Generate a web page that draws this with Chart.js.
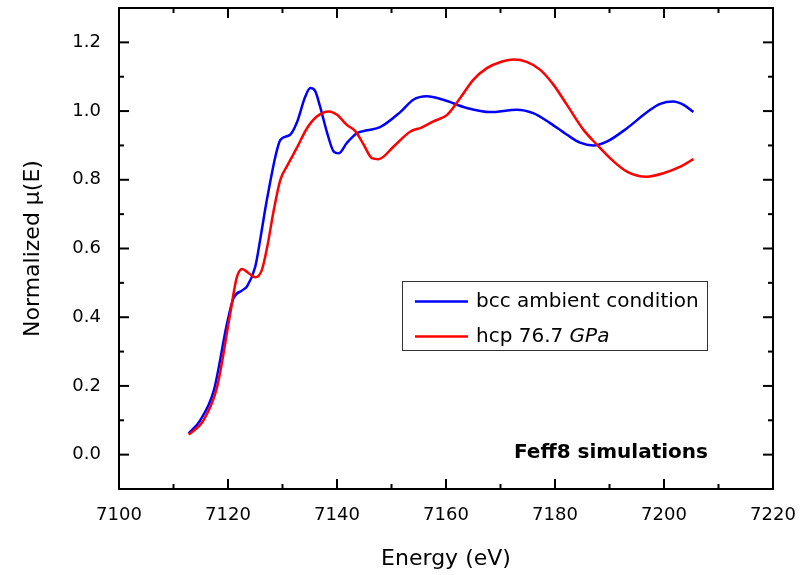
<!DOCTYPE html>
<html>
<head>
<meta charset="utf-8">
<script src="https://cdn.jsdelivr.net/npm/chart.js@4.4.0/dist/chart.umd.min.js"></script>
<style>
  html, body { margin: 0; padding: 0; background: #ffffff; }
  #wrap { width: 812px; height: 575px; }
</style>
</head>
<body>
<div id="wrap"><canvas id="c" width="812" height="575"></canvas></div>
<script>
// XANES spectra: bcc phase at ambient conditions vs hcp phase at 76.7 GPa
const energyBcc = [7112.8, 7114.9, 7117.4, 7119.8, 7121.0, 7122.6, 7123.5, 7125.0, 7125.9, 7126.8,
  7127.7, 7128.7, 7129.6, 7131.4, 7132.6, 7134.2, 7135.1, 7136.0, 7136.9, 7138.2,
  7139.4, 7140.3, 7141.8, 7143.7, 7145.5, 7147.9, 7151.6, 7154.0, 7156.5, 7159.5,
  7163.8, 7168.1, 7173.0, 7176.0, 7179.1, 7182.2, 7184.6, 7187.0, 7189.5, 7193.2,
  7196.8, 7199.3, 7201.7, 7203.6, 7205.4];
const muBcc = [0.062, 0.100, 0.187, 0.380, 0.455, 0.478, 0.490, 0.547, 0.625, 0.712,
  0.790, 0.868, 0.916, 0.931, 0.965, 1.043, 1.067, 1.058, 1.013, 0.936,
  0.882, 0.877, 0.907, 0.936, 0.944, 0.953, 0.997, 1.033, 1.043, 1.033,
  1.009, 0.997, 1.004, 0.994, 0.965, 0.931, 0.908, 0.900, 0.911, 0.950,
  0.996, 1.021, 1.028, 1.018, 0.997];

const energyHcp = [7112.8, 7115.5, 7118.0, 7120.4, 7121.6, 7122.6, 7123.8, 7125.0, 7126.2, 7127.2,
  7128.4, 7129.6, 7130.8, 7132.6, 7134.5, 7136.3, 7138.5, 7140.0, 7141.8, 7143.4,
  7144.9, 7146.4, 7147.6, 7150.4, 7153.4, 7155.5, 7157.7, 7160.2, 7162.6, 7165.0,
  7167.5, 7169.9, 7172.4, 7174.8, 7177.3, 7179.7, 7182.2, 7185.2, 7187.7, 7190.1,
  7193.2, 7196.8, 7199.9, 7203.0, 7205.4];
const muHcp = [0.058, 0.100, 0.197, 0.410, 0.515, 0.540, 0.528, 0.516, 0.537, 0.605,
  0.712, 0.800, 0.839, 0.892, 0.950, 0.984, 0.999, 0.989, 0.960, 0.941,
  0.902, 0.863, 0.860, 0.897, 0.940, 0.952, 0.970, 0.989, 1.038, 1.091,
  1.125, 1.142, 1.150, 1.143, 1.120, 1.077, 1.018, 0.946, 0.902, 0.863,
  0.824, 0.809, 0.819, 0.838, 0.860];

const xTicks = [7100, 7120, 7140, 7160, 7180, 7200, 7220];
const xMinorTicks = [7110, 7130, 7150, 7170, 7190, 7210];
const yTicks = [0.0, 0.2, 0.4, 0.6, 0.8, 1.0, 1.2];
const yMinorTicks = [0.1, 0.3, 0.5, 0.7, 0.9, 1.1];

const seriesLabels = ['bcc ambient condition', 'hcp 76.7 GPa'];
const seriesColors = ['#0000ff', '#ff0000'];

const FONT = "'DejaVu Sans', 'Open Sans', sans-serif";

function pairs(xs, ys) { return xs.map((x, i) => ({ x: x, y: ys[i] })); }

// Boxed frame with inward ticks on all four sides, legend and note
const framePlugin = {
  id: 'frame',
  afterDraw(chart) {
    const ctx = chart.ctx;
    const a = chart.chartArea;
    const xs = chart.scales.x, ys = chart.scales.y;
    ctx.save();
    ctx.strokeStyle = '#000';
    ctx.lineWidth = 2;
    ctx.strokeRect(a.left, a.top, a.right - a.left, a.bottom - a.top);

    const tick = (x1, y1, x2, y2) => { ctx.beginPath(); ctx.moveTo(x1, y1); ctx.lineTo(x2, y2); ctx.stroke(); };
    const MAJ = 10, MIN = 5;
    xTicks.forEach(v => { const p = xs.getPixelForValue(v); tick(p, a.bottom, p, a.bottom - MAJ); tick(p, a.top, p, a.top + MAJ); });
    xMinorTicks.forEach(v => { const p = xs.getPixelForValue(v); tick(p, a.bottom, p, a.bottom - MIN); tick(p, a.top, p, a.top + MIN); });
    yTicks.forEach(v => { const p = ys.getPixelForValue(v); tick(a.left, p, a.left + MAJ, p); tick(a.right, p, a.right - MAJ, p); });
    yMinorTicks.forEach(v => { const p = ys.getPixelForValue(v); tick(a.left, p, a.left + MIN, p); tick(a.right, p, a.right - MIN, p); });

    // legend
    const lx = 402.5, ly = 281.5, lw = 305, lh = 69;
    ctx.lineWidth = 1;
    ctx.strokeStyle = '#333';
    ctx.strokeRect(lx, ly, lw, lh);
    const rows = [301.5, 336.5];
    ctx.font = '20px ' + FONT;
    ctx.textBaseline = 'middle';
    ctx.fillStyle = '#000';
    rows.forEach((ry, i) => {
      ctx.strokeStyle = seriesColors[i];
      ctx.lineWidth = 2.5;
      tick(415, ry, 468, ry);
    });
    ctx.textAlign = 'left';
    ctx.fillText(seriesLabels[0], 476, rows[0]);
    const head = 'hcp 76.7 ';
    ctx.fillText(head, 476, rows[1]);
    const w = ctx.measureText(head).width;
    ctx.font = 'italic 20px ' + FONT;
    ctx.fillText('GPa', 476 + w, rows[1]);

    // note
    ctx.font = 'bold 20px ' + FONT;
    ctx.textAlign = 'right';
    ctx.fillText('Feff8 simulations', 708, 453);
    ctx.restore();
  }
};

new Chart(document.getElementById('c'), {
  type: 'line',
  data: {
    datasets: [
      { label: seriesLabels[0], data: pairs(energyBcc, muBcc), borderColor: seriesColors[0],
        borderWidth: 2.5, pointRadius: 0, cubicInterpolationMode: 'monotone', order: 1 },
      { label: seriesLabels[1], data: pairs(energyHcp, muHcp), borderColor: seriesColors[1],
        borderWidth: 2.5, pointRadius: 0, cubicInterpolationMode: 'monotone', order: 0 }
    ]
  },
  options: {
    responsive: false,
    devicePixelRatio: 1,
    animation: false,
    layout: { padding: { top: 8, right: 39, left: 0, bottom: 0 } },
    plugins: { legend: { display: false }, tooltip: { enabled: false } },
    scales: {
      x: {
        type: 'linear', min: 7100, max: 7220,
        grid: { display: false }, border: { display: false },
        afterBuildTicks: s => { s.ticks = xTicks.map(v => ({ value: v })); },
        afterFit: s => { s.height = 86; s.paddingLeft = 0; s.paddingRight = 0; },
        ticks: { color: '#000', padding: 8, font: { family: FONT, size: 18 }, callback: v => String(v) },
        title: { display: true, text: 'Energy (eV)', color: '#000', font: { family: FONT, size: 22 }, padding: { top: 0, bottom: 3 } }
      },
      y: {
        type: 'linear', min: -0.1, max: 1.3,
        grid: { display: false }, border: { display: false },
        afterBuildTicks: s => { s.ticks = yTicks.map(v => ({ value: v })); },
        afterFit: s => { s.width = 119; s.paddingTop = 0; s.paddingBottom = 0; },
        ticks: { color: '#000', padding: 10, font: { family: FONT, size: 18 }, callback: v => Number(v).toFixed(1) },
        title: { display: true, text: 'Normalized μ(E)', color: '#000', font: { family: FONT, size: 22 }, padding: { top: 20, bottom: 0 } }
      }
    }
  },
  plugins: [framePlugin]
});
</script>
</body>
</html>
